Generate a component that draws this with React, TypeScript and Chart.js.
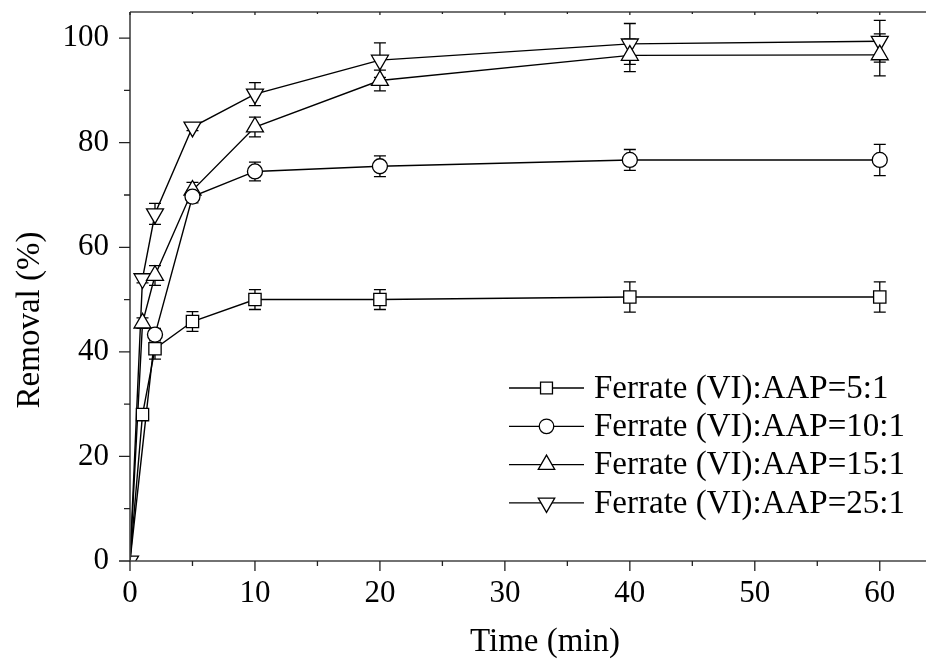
import React, { useEffect, useRef } from 'react';
import { Chart, registerables } from 'chart.js';

Chart.register(...registerables);

// ---- data ----
const timeMin = [0, 1, 2, 5, 10, 20, 40, 60];
const timeMin10 = [0, 2, 5, 10, 20, 40, 60];

const removal5 = [0, 28.0, 40.6, 45.8, 50.0, 50.0, 50.5, 50.5];
const err5 = [0, 0, 2.0, 1.9, 1.9, 1.9, 2.9, 2.9];

const removal10 = [0, 43.3, 69.7, 74.5, 75.5, 76.7, 76.7];
const err10 = [0, 1.2, 1.2, 1.8, 2.0, 2.0, 3.0];

const removal15 = [0, 45.5, 54.6, 70.9, 83.0, 91.9, 96.7, 96.8];
const err15 = [0, 1.0, 1.9, 1.5, 1.9, 2.0, 3.1, 4.0];

const removal25 = [0, 54.0, 66.4, 83.0, 89.3, 95.8, 98.9, 99.4];
const err25 = [0, 0.8, 2.0, 0.7, 2.2, 3.3, 3.9, 4.0];

const seriesLabels = [
  'Ferrate (VI):AAP=5:1',
  'Ferrate (VI):AAP=10:1',
  'Ferrate (VI):AAP=15:1',
  'Ferrate (VI):AAP=25:1',
];

const xTickValues = [0, 10, 20, 30, 40, 50, 60];
const yTickValues = [0, 20, 40, 60, 80, 100];
const xTitle = 'Time (min)';
const yTitle = 'Removal (%)';

const FONT = '"Liberation Serif", "Times New Roman", Times, serif';

type Marker = { style: string; radius: number; rotation: number };
const markers: Marker[] = [
  { style: 'rect', radius: 8.7, rotation: 0 },
  { style: 'circle', radius: 7.5, rotation: 0 },
  { style: 'triangle', radius: 9.8, rotation: 0 },
  { style: 'triangle', radius: 9.8, rotation: 180 },
];

const errors = [err5, err10, err15, err25];

function drawMarker(ctx: CanvasRenderingContext2D, m: Marker, x: number, y: number) {
  ctx.beginPath();
  const r = m.radius;
  if (m.style === 'rect') {
    const s = Math.SQRT1_2 * r;
    ctx.rect(x - s, y - s, 2 * s, 2 * s);
  } else if (m.style === 'circle') {
    ctx.arc(x, y, r, 0, Math.PI * 2);
  } else {
    let rad = (m.rotation * Math.PI) / 180;
    ctx.moveTo(x + Math.sin(rad) * r, y - Math.cos(rad) * r);
    rad += (2 * Math.PI) / 3;
    ctx.lineTo(x + Math.sin(rad) * r, y - Math.cos(rad) * r);
    rad += (2 * Math.PI) / 3;
    ctx.lineTo(x + Math.sin(rad) * r, y - Math.cos(rad) * r);
    ctx.closePath();
  }
  ctx.fillStyle = '#fff';
  ctx.fill();
  ctx.stroke();
}

const errorBarPlugin = {
  id: 'errorBars',
  beforeDatasetsDraw(chart: any) {
    const { ctx, scales } = chart;
    const x = scales.x;
    const y = scales.y;
    ctx.save();
    ctx.strokeStyle = '#000';
    ctx.lineWidth = 1.3;
    chart.data.datasets.forEach((ds: any, i: number) => {
      const errs = errors[i];
      ds.data.forEach((pt: any, j: number) => {
        const e = errs[j];
        if (!e) return;
        const px = x.getPixelForValue(pt.x);
        const top = y.getPixelForValue(pt.y + e);
        const bot = y.getPixelForValue(pt.y - e);
        ctx.beginPath();
        ctx.moveTo(px, top);
        ctx.lineTo(px, bot);
        ctx.moveTo(px - 6, top);
        ctx.lineTo(px + 6, top);
        ctx.moveTo(px - 6, bot);
        ctx.lineTo(px + 6, bot);
        ctx.stroke();
      });
    });
    ctx.restore();
  },
};

const framePlugin = {
  id: 'frame',
  afterDraw(chart: any) {
    const { ctx, chartArea: a, scales } = chart;
    const x = scales.x;
    const y = scales.y;
    ctx.save();
    ctx.strokeStyle = '#444';
    ctx.lineWidth = 1.6;
    ctx.beginPath();
    ctx.moveTo(a.left, a.top);
    ctx.lineTo(a.left, a.bottom);
    ctx.lineTo(a.right, a.bottom);
    ctx.moveTo(a.left, a.top);
    ctx.lineTo(a.right, a.top);
    ctx.stroke();

    ctx.lineWidth = 1.3;
    ctx.strokeStyle = '#222';
    ctx.beginPath();
    for (let k = 0; k < xTickValues.length; k++) {
      const v = xTickValues[k];
      const px = x.getPixelForValue(v);
      ctx.moveTo(px, a.bottom);
      ctx.lineTo(px, a.bottom + 10);
      ctx.moveTo(px, a.top);
      ctx.lineTo(px, a.top + 3);
      if (k < xTickValues.length - 1) {
        const mv = (v + xTickValues[k + 1]) / 2;
        const mx = x.getPixelForValue(mv);
        ctx.moveTo(mx, a.bottom);
        ctx.lineTo(mx, a.bottom + 5);
        ctx.moveTo(mx, a.top);
        ctx.lineTo(mx, a.top + 2);
      }
    }
    for (let k = 0; k < yTickValues.length; k++) {
      const v = yTickValues[k];
      const py = y.getPixelForValue(v);
      ctx.moveTo(a.left - 11, py);
      ctx.lineTo(a.left, py);
      if (k < yTickValues.length - 1) {
        const mv = (v + yTickValues[k + 1]) / 2;
        const my = y.getPixelForValue(mv);
        ctx.moveTo(a.left - 6, my);
        ctx.lineTo(a.left, my);
      }
    }
    ctx.stroke();

    // axis titles
    ctx.fillStyle = '#000';
    ctx.font = `33px ${FONT}`;
    ctx.textAlign = 'center';
    ctx.textBaseline = 'middle';
    ctx.fillText(xTitle, 545, 642);
    ctx.save();
    ctx.translate(30, 320);
    ctx.rotate(-Math.PI / 2);
    ctx.fillText(yTitle, 0, 0);
    ctx.restore();

    // legend
    ctx.font = `33px ${FONT}`;
    ctx.textAlign = 'left';
    ctx.textBaseline = 'middle';
    ctx.strokeStyle = '#000';
    ctx.lineWidth = 1.3;
    for (let i = 0; i < seriesLabels.length; i++) {
      const ry = 388 + i * 38.3;
      ctx.beginPath();
      ctx.moveTo(509, ry);
      ctx.lineTo(584, ry);
      ctx.stroke();
      const m = { ...markers[i], radius: markers[i].radius * 0.97 };
      drawMarker(ctx, m, 546.5, ry);
      ctx.fillStyle = '#000';
      ctx.fillText(seriesLabels[i], 594, ry + 1);
    }
    ctx.restore();
  },
};

function makeDataset(xs: number[], ys: number[], i: number, label: string) {
  const m = markers[i];
  const radii = xs.map((v, j) => (j === 0 && i !== 3 ? 0 : m.radius));
  return {
    label,
    data: xs.map((v, j) => ({ x: v, y: ys[j] })),
    borderColor: '#000',
    borderWidth: 1.4,
    backgroundColor: '#fff',
    pointStyle: m.style,
    pointRotation: m.rotation,
    pointRadius: radii,
    pointBorderWidth: 1.3,
    pointBorderColor: '#000',
    pointBackgroundColor: '#fff',
    fill: false,
    tension: 0,
    clip: 0,
  };
}

export default function App() {
  const ref = useRef<HTMLCanvasElement | null>(null);

  useEffect(() => {
    if (!ref.current) return;
    const chart = new Chart(ref.current, {
      type: 'line',
      data: {
        datasets: [
          makeDataset(timeMin, removal5, 0, seriesLabels[0]),
          makeDataset(timeMin10, removal10, 1, seriesLabels[1]),
          makeDataset(timeMin, removal15, 2, seriesLabels[2]),
          makeDataset(timeMin, removal25, 3, seriesLabels[3]),
        ] as any,
      },
      options: {
        animation: false,
        responsive: false,
        maintainAspectRatio: false,
        layout: { autoPadding: false, padding: { top: 12, right: 0, left: 0, bottom: 0 } },
        plugins: {
          legend: { display: false },
          tooltip: { enabled: false },
        },
        scales: {
          x: {
            type: 'linear',
            min: 0,
            max: 63.7,
            grid: { display: false, drawTicks: false },
            border: { display: false },
            afterBuildTicks: (s: any) => {
              s.ticks = xTickValues.map((v) => ({ value: v }));
            },
            afterFit: (s: any) => {
              s.height = 103;
              s.paddingLeft = 0;
              s.paddingRight = 0;
              s.paddingTop = 0;
              s.paddingBottom = 0;
            },
            ticks: {
              font: { family: FONT, size: 31 },
              color: '#000',
              padding: 14,
              maxRotation: 0,
              autoSkip: false,
            },
          },
          y: {
            type: 'linear',
            min: 0,
            max: 105,
            grid: { display: false, drawTicks: false },
            border: { display: false },
            afterBuildTicks: (s: any) => {
              s.ticks = yTickValues.map((v) => ({ value: v }));
            },
            afterFit: (s: any) => {
              s.width = 130;
              s.paddingLeft = 0;
              s.paddingRight = 0;
              s.paddingTop = 0;
              s.paddingBottom = 0;
            },
            ticks: {
              font: { family: FONT, size: 31 },
              color: '#000',
              padding: 21,
              autoSkip: false,
            },
          },
        },
      } as any,
      plugins: [errorBarPlugin, framePlugin],
    });
    return () => chart.destroy();
  }, []);

  return (
    <div style={{ position: 'fixed', left: 0, top: 0, width: 926, height: 664, background: '#fff' }}>
      <canvas ref={ref} width={926} height={664} style={{ width: 926, height: 664 }} />
    </div>
  );
}
